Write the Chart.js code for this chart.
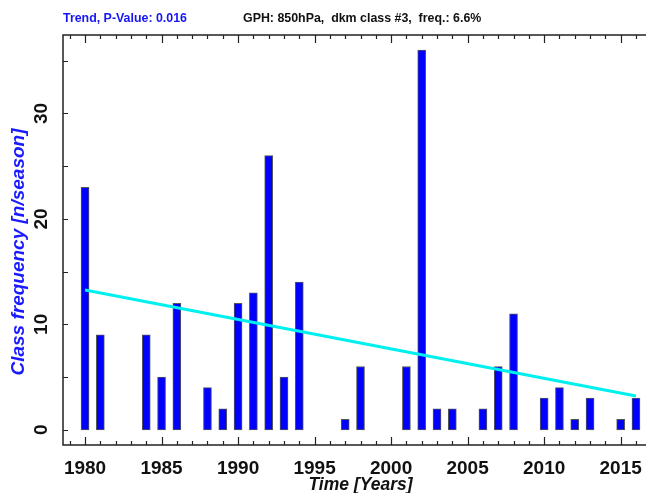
<!DOCTYPE html>
<html>
<head>
<meta charset="utf-8">
<script src="https://cdn.jsdelivr.net/npm/chart.js@4/dist/chart.umd.min.js"></script>
<style>
  html, body { margin: 0; padding: 0; background: #fff; overflow: hidden; }
  #wrap { width: 662px; height: 493px; }
</style>
</head>
<body>
<div id="wrap"><canvas id="c" width="662" height="493"></canvas></div>
<script>
// seasonal class counts, one per year (0 = no bar)
const years = [
  1980, 1981, 1982, 1983, 1984, 1985, 1986, 1987, 1988, 1989,
  1990, 1991, 1992, 1993, 1994, 1995, 1996, 1997, 1998, 1999,
  2000, 2001, 2002, 2003, 2004, 2005, 2006, 2007, 2008, 2009,
  2010, 2011, 2012, 2013, 2014, 2015, 2016,
];
const counts = [
  23, 9, 0, 0, 9, 5, 12, 0, 4, 2,
  12, 13, 26, 5, 14, 0, 0, 1, 6, 0,
  0, 6, 36, 2, 2, 0, 2, 6, 11, 0,
  3, 4, 1, 3, 0, 1, 3,
];

// linear trend, end points
const trendYears = [1980, 2016];
const trendValues = [13.26, 3.2];

const xTickYears = [];
for (let y = 1979; y <= 2016; y++) xTickYears.push(y);
const yTickValues = [0, 5, 10, 15, 20, 25, 30, 35];

const headerLeft = "Trend, P-Value: 0.016";
const headerRight = "GPH: 850hPa,  dkm class #3,  freq.: 6.6%";
const xTitle = "Time [Years]";
const yTitle = "Class frequency [n/season]";

const FAMILY = "'Liberation Sans', Arial, Helvetica, sans-serif";
Chart.defaults.font.family = FAMILY;

// box around the plot, inward ticks, header and axis titles
const framePlugin = {
  id: "frame",
  afterDraw(chart) {
    const { ctx, chartArea: a, scales } = chart;
    const xs = scales.x;
    const ys = scales.y;
    ctx.save();
    ctx.strokeStyle = "#222";
    ctx.lineWidth = 1.5;
    ctx.beginPath();
    ctx.moveTo(a.right, a.top);
    ctx.lineTo(a.left, a.top);
    ctx.lineTo(a.left, a.bottom);
    ctx.lineTo(a.right, a.bottom);
    ctx.stroke();

    ctx.lineWidth = 1.2;
    ctx.beginPath();
    for (const yr of xTickYears) {
      const px = Math.round(xs.getPixelForValue(yr)) + 0.5;
      const len = yr % 5 === 0 ? 8 : 4;
      ctx.moveTo(px, a.bottom);
      ctx.lineTo(px, a.bottom - len);
      ctx.moveTo(px, a.top);
      ctx.lineTo(px, a.top + len);
    }
    for (const v of yTickValues) {
      const py = Math.round(ys.getPixelForValue(v)) + 0.5;
      ctx.moveTo(a.left, py);
      ctx.lineTo(a.left + 5, py);
    }
    ctx.stroke();

    ctx.font = "bold 12.4px " + FAMILY;
    ctx.textBaseline = "alphabetic";
    ctx.textAlign = "left";
    ctx.fillStyle = "#1515f5";
    ctx.fillText(headerLeft, 63, 21.5);
    ctx.fillStyle = "#111";
    ctx.fillText(headerRight, 243, 21.5);

    ctx.font = "italic bold 17.5px " + FAMILY;
    ctx.textAlign = "center";
    ctx.fillStyle = "#111";
    ctx.fillText(xTitle, (a.left + a.right) / 2, 490);

    ctx.translate(19, 252);
    ctx.rotate(-Math.PI / 2);
    ctx.font = "italic bold 19px " + FAMILY;
    ctx.textBaseline = "middle";
    ctx.fillStyle = "#1a1aff";
    ctx.fillText(yTitle, 0, 0);
    ctx.restore();
  },
};

const barPoints = [];
years.forEach((yr, i) => {
  if (counts[i] > 0) barPoints.push({ x: yr, y: counts[i] });
});

new Chart(document.getElementById("c"), {
  type: "bar",
  data: {
    datasets: [
      {
        type: "line",
        data: trendYears.map((yr, i) => ({ x: yr, y: trendValues[i] })),
        borderColor: "#00f0f0",
        borderWidth: 3,
        pointRadius: 0,
        order: 0,
      },
      {
        data: barPoints,
        backgroundColor: "#0000ff",
        borderColor: "#555",
        borderWidth: 1,
        borderSkipped: false,
        barThickness: 8,
        order: 1,
      },
    ],
  },
  options: {
    responsive: false,
    animation: false,
    devicePixelRatio: 1,
    layout: { padding: { left: 0, right: 4, top: 35, bottom: 0 } },
    plugins: { legend: { display: false }, tooltip: { enabled: false } },
    scales: {
      x: {
        type: "linear",
        offset: false,
        min: 1978.56,
        max: 2017.44,
        grid: { display: false, offset: false },
        border: { display: false },
        afterBuildTicks: (s) => {
          s.ticks = xTickYears.map((v) => ({ value: v }));
        },
        afterFit: (s) => {
          s.height = 48;
        },
        ticks: {
          autoSkip: false,
          maxRotation: 0,
          padding: 6.5,
          color: "#111",
          font: { size: 19, weight: "bold", lineHeight: 1 },
          callback: (v) => (v % 5 === 0 ? String(v) : ""),
        },
      },
      y: {
        min: -1.44,
        max: 37.44,
        grid: { display: false },
        border: { display: false },
        afterBuildTicks: (s) => {
          s.ticks = yTickValues.map((v) => ({ value: v }));
        },
        afterFit: (s) => {
          s.width = 63;
        },
        ticks: {
          minRotation: 90,
          maxRotation: 90,
          crossAlign: "center",
          padding: 3,
          color: "#111",
          font: { size: 19, weight: "bold", lineHeight: 1 },
          callback: (v) => (v % 10 === 0 ? String(v) : ""),
        },
      },
    },
  },
  plugins: [framePlugin],
});
</script>
</body>
</html>
